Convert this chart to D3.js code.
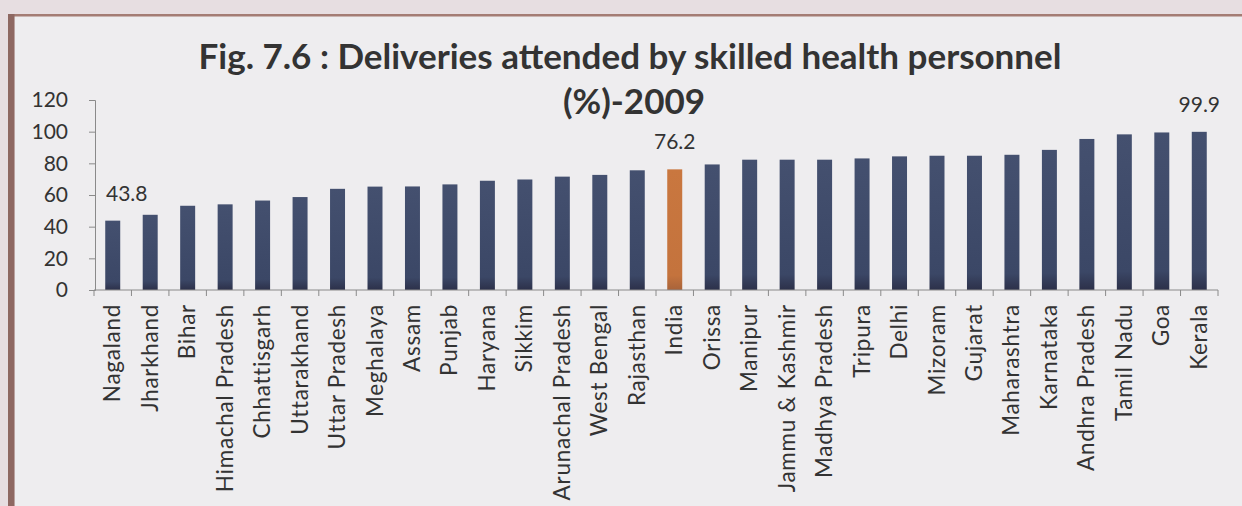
<!DOCTYPE html>
<html>
<head>
<meta charset="utf-8">
<script src="https://cdn.jsdelivr.net/npm/d3@7/dist/d3.min.js"></script>
<style>
  html, body { margin: 0; padding: 0; background: #e7dee1; }
  svg { display: block; }
</style>
</head>
<body>
<script>
const categories = ["Nagaland","Jharkhand","Bihar","Himachal Pradesh","Chhattisgarh","Uttarakhand","Uttar Pradesh","Meghalaya","Assam","Punjab","Haryana","Sikkim","Arunachal Pradesh","West Bengal","Rajasthan","India","Orissa","Manipur","Jammu & Kashmir","Madhya Pradesh","Tripura","Delhi","Mizoram","Gujarat","Maharashtra","Karnataka","Andhra Pradesh","Tamil Nadu","Goa","Kerala"];
const values = [43.8,47.5,53.2,54.1,56.5,58.7,63.9,65.3,65.4,66.7,69.0,69.8,71.6,72.7,75.6,76.2,79.3,82.3,82.3,82.3,83.1,84.4,84.8,84.8,85.4,88.5,95.4,98.3,99.5,99.9];
const highlighted = ["India"];
const labelled = ["Nagaland","India","Kerala"];
const yTicks = [0,20,40,60,80,100,120];
const titleLines = ["Fig. 7.6 : Deliveries attended by skilled health personnel", "(%)-2009"];

const W = 1242, H = 506;
const svg = d3.select("body").append("svg").attr("width", W).attr("height", H);

// background + frame
svg.append("rect").attr("x",0).attr("y",0).attr("width",W).attr("height",H).attr("fill","#e7dee1");
svg.append("rect").attr("x",15).attr("y",16).attr("width",W-15).attr("height",H-16).attr("fill","#eeedef");
svg.append("rect").attr("x",8).attr("y",14).attr("width",W-8).attr("height",2.5).attr("fill","#a47c74");
svg.append("rect").attr("x",8).attr("y",14).attr("width",6.5).attr("height",H-14).attr("fill","#8e6862");

const defs = svg.append("defs");
const g1 = defs.append("linearGradient").attr("id","navy").attr("x1",0).attr("y1",0).attr("x2",0).attr("y2",1);
g1.append("stop").attr("offset","0%").attr("stop-color","#44506f");
g1.append("stop").attr("offset","88%").attr("stop-color","#3b4766");
g1.append("stop").attr("offset","100%").attr("stop-color","#2c3049");
const g2 = defs.append("linearGradient").attr("id","orange").attr("x1",0).attr("y1",0).attr("x2",0).attr("y2",1);
g2.append("stop").attr("offset","0%").attr("stop-color","#c9773f");
g2.append("stop").attr("offset","88%").attr("stop-color","#c4733d");
g2.append("stop").attr("offset","100%").attr("stop-color","#a8633a");

const x = d3.scaleBand().domain(categories).range([94, 1218]).paddingInner(0.6).paddingOuter(0.3);
const y = d3.scaleLinear().domain([0,120]).range([290, 100]);

// title
const title = svg.append("text").attr("font-family","Lato, sans-serif").attr("font-weight","bold")
  .attr("font-size",35).attr("fill","#333").attr("text-anchor","middle");
title.append("tspan").attr("x",630).attr("y",69).text(titleLines[0]);
title.append("tspan").attr("x",634).attr("y",114).text(titleLines[1]);

// bars
svg.append("g").selectAll("rect").data(categories).join("rect")
  .attr("x", d => x(d))
  .attr("y", (d,i) => y(values[i]))
  .attr("width", x.bandwidth())
  .attr("height", (d,i) => y(0) - y(values[i]))
  .attr("fill", d => highlighted.includes(d) ? "url(#orange)" : "url(#navy)");

// y axis
const yAxis = svg.append("g").attr("transform","translate(95,0)")
  .call(d3.axisLeft(y).tickValues(yTicks).tickSize(6).tickPadding(21));
yAxis.select(".domain").attr("stroke","#8a8a8a");
yAxis.selectAll(".tick line").attr("stroke","#8a8a8a");
yAxis.selectAll(".tick text").attr("font-family","Lato, sans-serif").attr("font-size",21).attr("fill","#333");

// x axis line
const step = x.step();
const x0 = 94;
svg.append("line").attr("x1",x0).attr("x2",1218).attr("y1",y(0)).attr("y2",y(0)).attr("stroke","#8a8a8a");
svg.append("g").selectAll("line").data(d3.range(categories.length+1)).join("line")
  .attr("x1", i => x0 + i*step).attr("x2", i => x0 + i*step)
  .attr("y1", y(0)).attr("y2", y(0)+6).attr("stroke","#8a8a8a");

// category labels
svg.append("g").selectAll("text").data(categories).join("text")
  .attr("transform", d => `translate(${x(d)+x.bandwidth()/2 + 7.5},${y(0)+14}) rotate(-90)`)
  .attr("text-anchor","end")
  .attr("font-family","Lato, sans-serif").attr("font-size",22.5).attr("letter-spacing","0.7px").attr("fill","#333")
  .text(d => d);

// value labels
svg.append("g").selectAll("text").data(categories.filter(d => labelled.includes(d))).join("text")
  .attr("x", d => x(d) + x.bandwidth()/2 + (d === categories[0] ? 14 : 0))
  .attr("y", d => y(values[categories.indexOf(d)]) - 20)
  .attr("text-anchor","middle")
  .attr("font-family","Lato, sans-serif").attr("font-size",21).attr("fill","#333")
  .text(d => values[categories.indexOf(d)].toFixed(1));
</script>
</body>
</html>
